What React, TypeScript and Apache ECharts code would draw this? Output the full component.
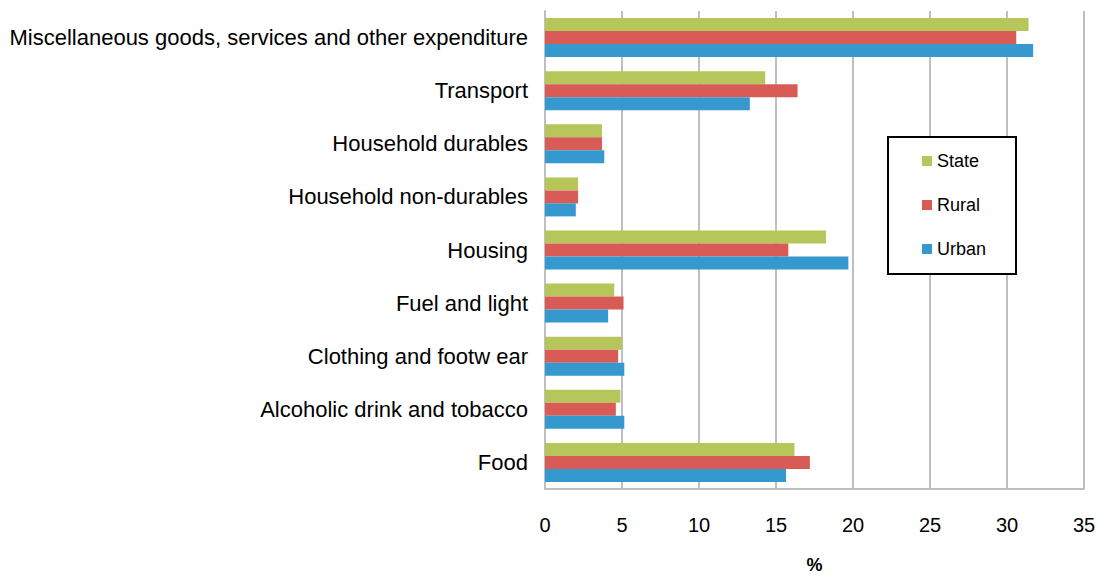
import React, { useEffect, useRef } from "react";
import * as echarts from "echarts";

const categories = [
  "Food",
  "Alcoholic drink and tobacco",
  "Clothing and footw ear",
  "Fuel and light",
  "Housing",
  "Household non-durables",
  "Household durables",
  "Transport",
  "Miscellaneous goods, services and other expenditure",
];
const stateValues = [16.2, 4.9, 5.0, 4.5, 18.25, 2.15, 3.7, 14.3, 31.4];
const ruralValues = [17.2, 4.6, 4.75, 5.1, 15.8, 2.15, 3.7, 16.4, 30.6];
const urbanValues = [15.65, 5.15, 5.15, 4.1, 19.7, 2.0, 3.85, 13.3, 31.7];
const xTicks = { min: 0, max: 35, interval: 5 };
const axisName = "%";

const FONT = "'Liberation Sans', Arial, sans-serif";

export default function App() {
  const ref = useRef<HTMLDivElement>(null);
  useEffect(() => {
    if (!ref.current) return;
    const chart = echarts.init(ref.current, undefined, { renderer: "svg" });
    chart.setOption({
      animation: false,
      backgroundColor: "#ffffff",
      textStyle: { fontFamily: FONT },
      grid: { left: 545, right: 15, top: 11, bottom: 84, containLabel: false },
      graphic: [
        {
          type: "rect",
          z: 3,
          shape: { x: 888, y: 137, width: 128, height: 137 },
          style: { fill: "#ffffff", stroke: "#000000", lineWidth: 2 },
        },
      ],
      legend: {
        orient: "vertical",
        left: 922,
        top: 151,
        padding: 0,
        data: ["State", "Rural", "Urban"],
        itemWidth: 10,
        itemHeight: 10,
        itemGap: 24,
        icon: "rect",
        textStyle: { fontSize: 18, lineHeight: 20, color: "#000000", fontFamily: FONT },
      },
      xAxis: {
        type: "value",
        min: xTicks.min,
        max: xTicks.max,
        interval: xTicks.interval,
        name: axisName,
        nameLocation: "middle",
        nameGap: 67,
        nameTextStyle: { fontSize: 18, fontWeight: "bold", color: "#000000" },
        axisLine: { show: true, lineStyle: { color: "#bfbfbf", width: 2 } },
        axisTick: { show: false },
        axisLabel: { fontSize: 20, color: "#000000", margin: 26 },
        splitLine: { show: true, lineStyle: { color: "#bfbfbf", width: 2 } },
      },
      yAxis: {
        type: "category",
        data: categories,
        axisLine: { show: true, lineStyle: { color: "#bfbfbf", width: 2 } },
        axisTick: { show: false },
        axisLabel: { fontSize: 22, color: "#000000", margin: 17 },
      },
      series: [
        {
          name: "State",
          type: "bar",
          data: stateValues,
          itemStyle: { color: "#b6c65b" },
          barWidth: 13,
          barGap: "0%",
        },
        {
          name: "Rural",
          type: "bar",
          data: ruralValues,
          itemStyle: { color: "#d95b55" },
          barWidth: 13,
          barGap: "0%",
        },
        {
          name: "Urban",
          type: "bar",
          data: urbanValues,
          itemStyle: { color: "#3598cf" },
          barWidth: 13,
          barGap: "0%",
        },
      ],
    });
    return () => chart.dispose();
  }, []);
  return (
    <div
      ref={ref}
      style={{ position: "fixed", left: 0, top: 0, width: 1099, height: 579 }}
    />
  );
}
